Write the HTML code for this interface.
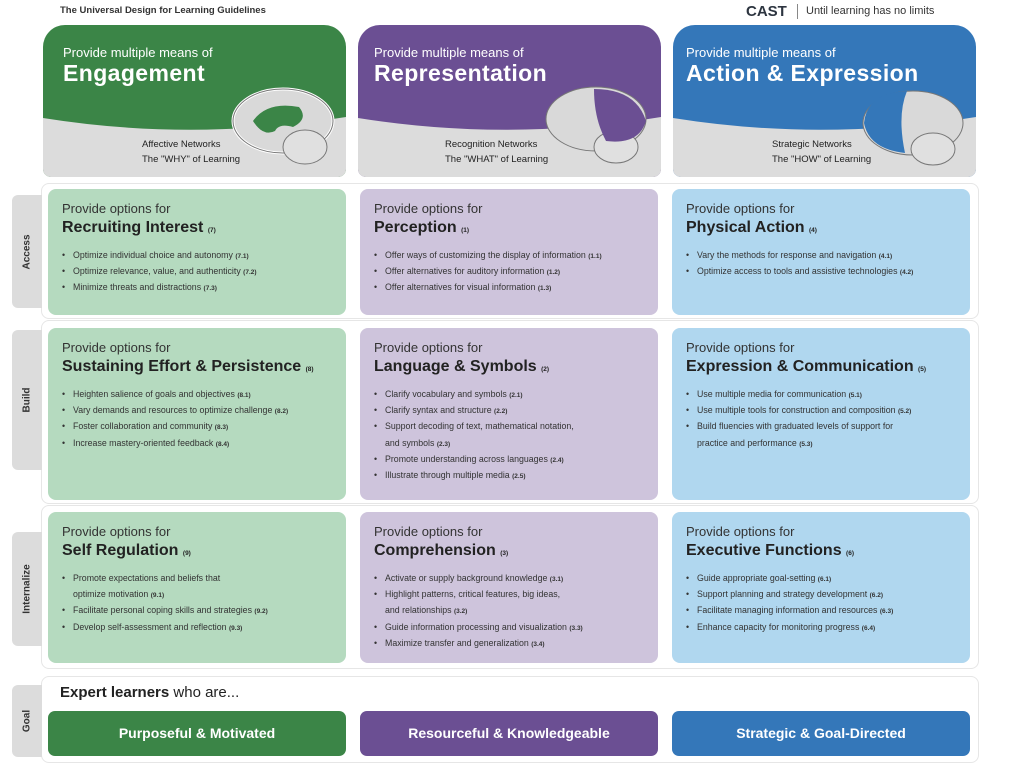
<!DOCTYPE html>
<html><head><meta charset="utf-8"><style>
*{margin:0;padding:0;box-sizing:border-box}
body{width:1024px;height:767px;background:#fff;font-family:"Liberation Sans",sans-serif;position:relative;overflow:hidden;color:#222}
.a{position:absolute}
.hdr{position:absolute;top:25px;width:303px;height:152px;border-radius:22px 22px 8px 8px;overflow:hidden}
.hdr .bg{position:absolute;left:0;top:0}
.hdr .p{position:absolute;top:20px;color:#fff;font-size:13px}
.hdr .t{position:absolute;top:35px;color:#fff;font-size:23px;font-weight:bold;letter-spacing:.4px}
.hdr .n{position:absolute;top:112px;font-size:9.5px;line-height:15px;color:#222}
.hdr svg.br{position:absolute}
.row{position:absolute;left:41px;width:938px;border:1px solid #e6e6e6;border-radius:8px;background:#fff}
.tab{position:absolute;left:12px;width:30px;background:#dcdcdc;border-radius:6px 0 0 6px}
.tab span{position:absolute;left:50%;top:50%;transform:translate(-50%,-50%) rotate(-90deg);font-size:10px;font-weight:bold;white-space:nowrap;color:#333}
.cell{position:absolute;width:298px;border-radius:8px;padding:11px 0 0 14px}
.g{background:#b5dabf}.pu{background:#cec4dc}.b{background:#b0d7ef}
.cell .p{font-size:13px;line-height:18px;color:#333}
.cell .t{font-size:16px;line-height:20px;font-weight:bold;color:#222;margin-bottom:9px}
.cell .t small,.cell li small{font-size:6.5px;font-weight:bold;line-height:0}
.cell ul{list-style:none}
.cell li{font-size:8.8px;line-height:16.2px;height:16.2px;padding-left:11px;position:relative;color:#333;white-space:nowrap}
.cell li.two{height:32.4px}
.cell li:before{content:"•";position:absolute;left:0}
.btn{position:absolute;top:711px;height:45px;width:298px;border-radius:7px;color:#fff;font-weight:bold;font-size:14px;text-align:center;line-height:45px}
</style></head><body>
<div class="a" style="left:60px;top:5px;font-size:9.5px;font-weight:bold;color:#333">The Universal Design for Learning Guidelines</div>
<div class="a" style="left:746px;top:3px;font-size:15px;font-weight:bold;color:#2d3540">CAST</div>
<div class="a" style="left:797px;top:4px;width:1px;height:15px;background:#888"></div>
<div class="a" style="left:806px;top:5px;font-size:11px;color:#333">Until learning has no limits</div>

<div class="hdr" style="left:43px"><svg class="bg" width="303" height="152"><rect width="303" height="152" fill="#3b8547"/><path d="M0 93 Q150 117 303 92 L303 152 L0 152Z" fill="#dcdcdc"/></svg>
<div class="p" style="left:20px">Provide multiple means of</div><div class="t" style="left:20px">Engagement</div>
<div class="n" style="left:99px">Affective Networks<br>The "WHY" of Learning</div>
<svg class="br" style="left:188px;top:60px" width="115" height="92"><ellipse cx="52" cy="36" rx="50" ry="32" fill="#d9d9d9" stroke="#fff" stroke-width="3"/><ellipse cx="52" cy="36" rx="50" ry="32" fill="none" stroke="#777" stroke-width="1"/><ellipse cx="74" cy="62" rx="22" ry="17" fill="#e0e0e0" stroke="#777"/><path d="M22 36 Q36 16 68 22 Q78 34 62 42 Q48 38 44 46 Q32 52 22 36Z" fill="#3b8547"/></svg>
</div>
<div class="hdr" style="left:358px"><svg class="bg" width="303" height="152"><rect width="303" height="152" fill="#6b4f93"/><path d="M0 93 Q150 117 303 92 L303 152 L0 152Z" fill="#dcdcdc"/></svg>
<div class="p" style="left:16px">Provide multiple means of</div><div class="t" style="left:16px">Representation</div>
<div class="n" style="left:87px">Recognition Networks<br>The "WHAT" of Learning</div>
<svg class="br" style="left:186px;top:58px" width="115" height="92"><ellipse cx="52" cy="36" rx="50" ry="32" fill="#d9d9d9" stroke="#777"/><ellipse cx="72" cy="64" rx="22" ry="16" fill="#e0e0e0" stroke="#777"/><path d="M50 6 Q92 6 102 38 Q95 62 62 58 Q50 36 50 6Z" fill="#6b4f93"/></svg>
</div>
<div class="hdr" style="left:673px"><svg class="bg" width="303" height="152"><rect width="303" height="152" fill="#3477b9"/><path d="M0 93 Q150 117 303 92 L303 152 L0 152Z" fill="#dcdcdc"/></svg>
<div class="p" style="left:13px">Provide multiple means of</div><div class="t" style="left:13px">Action &amp; Expression</div>
<div class="n" style="left:99px">Strategic Networks<br>The "HOW" of Learning</div>
<svg class="br" style="left:188px;top:62px" width="115" height="92"><ellipse cx="52" cy="36" rx="50" ry="32" fill="#d9d9d9" stroke="#777"/><ellipse cx="72" cy="62" rx="22" ry="16" fill="#e0e0e0" stroke="#777"/><path d="M3 36 Q6 6 46 4 Q36 28 44 66 Q8 62 3 36Z" fill="#3477b9"/></svg>
</div>

<div class="row" style="top:183px;height:136px"></div>
<div class="row" style="top:320px;height:184px"></div>
<div class="row" style="top:505px;height:164px"></div>
<div class="row" style="top:676px;height:87px"></div>
<div class="tab" style="top:195px;height:113px"><span>Access</span></div>
<div class="tab" style="top:330px;height:140px"><span>Build</span></div>
<div class="tab" style="top:532px;height:114px"><span>Internalize</span></div>
<div class="tab" style="top:685px;height:72px"><span>Goal</span></div>

<div class="cell g" style="left:48px;top:189px;height:126px"><div class="p">Provide options for</div><div class="t">Recruiting Interest <small>(7)</small></div><ul><li>Optimize individual choice and autonomy <small>(7.1)</small></li><li>Optimize relevance, value, and authenticity <small>(7.2)</small></li><li>Minimize threats and distractions <small>(7.3)</small></li></ul></div>
<div class="cell pu" style="left:360px;top:189px;height:126px"><div class="p">Provide options for</div><div class="t">Perception <small>(1)</small></div><ul><li>Offer ways of customizing the display of information <small>(1.1)</small></li><li>Offer alternatives for auditory information <small>(1.2)</small></li><li>Offer alternatives for visual information <small>(1.3)</small></li></ul></div>
<div class="cell b" style="left:672px;top:189px;height:126px"><div class="p">Provide options for</div><div class="t">Physical Action <small>(4)</small></div><ul><li>Vary the methods for response and navigation <small>(4.1)</small></li><li>Optimize access to tools and assistive technologies <small>(4.2)</small></li></ul></div>

<div class="cell g" style="left:48px;top:328px;height:172px"><div class="p">Provide options for</div><div class="t">Sustaining Effort &amp; Persistence <small>(8)</small></div><ul><li>Heighten salience of goals and objectives <small>(8.1)</small></li><li>Vary demands and resources to optimize challenge <small>(8.2)</small></li><li>Foster collaboration and community <small>(8.3)</small></li><li>Increase mastery-oriented feedback <small>(8.4)</small></li></ul></div>
<div class="cell pu" style="left:360px;top:328px;height:172px"><div class="p">Provide options for</div><div class="t">Language &amp; Symbols <small>(2)</small></div><ul><li>Clarify vocabulary and symbols <small>(2.1)</small></li><li>Clarify syntax and structure <small>(2.2)</small></li><li class="two">Support decoding of text, mathematical notation,<br>and symbols <small>(2.3)</small></li><li>Promote understanding across languages <small>(2.4)</small></li><li>Illustrate through multiple media <small>(2.5)</small></li></ul></div>
<div class="cell b" style="left:672px;top:328px;height:172px"><div class="p">Provide options for</div><div class="t">Expression &amp; Communication <small>(5)</small></div><ul><li>Use multiple media for communication <small>(5.1)</small></li><li>Use multiple tools for construction and composition <small>(5.2)</small></li><li class="two">Build fluencies with graduated levels of support for<br>practice and performance <small>(5.3)</small></li></ul></div>

<div class="cell g" style="left:48px;top:512px;height:151px"><div class="p">Provide options for</div><div class="t">Self Regulation <small>(9)</small></div><ul><li class="two">Promote expectations and beliefs that<br>optimize motivation <small>(9.1)</small></li><li>Facilitate personal coping skills and strategies <small>(9.2)</small></li><li>Develop self-assessment and reflection <small>(9.3)</small></li></ul></div>
<div class="cell pu" style="left:360px;top:512px;height:151px"><div class="p">Provide options for</div><div class="t">Comprehension <small>(3)</small></div><ul><li>Activate or supply background knowledge <small>(3.1)</small></li><li class="two">Highlight patterns, critical features, big ideas,<br>and relationships <small>(3.2)</small></li><li>Guide information processing and visualization <small>(3.3)</small></li><li>Maximize transfer and generalization <small>(3.4)</small></li></ul></div>
<div class="cell b" style="left:672px;top:512px;height:151px"><div class="p">Provide options for</div><div class="t">Executive Functions <small>(6)</small></div><ul><li>Guide appropriate goal-setting <small>(6.1)</small></li><li>Support planning and strategy development <small>(6.2)</small></li><li>Facilitate managing information and resources <small>(6.3)</small></li><li>Enhance capacity for monitoring progress <small>(6.4)</small></li></ul></div>

<div class="a" style="left:60px;top:684px;font-size:15px;color:#222"><b>Expert learners</b> who are...</div>
<div class="btn" style="left:48px;background:#3b8547">Purposeful &amp; Motivated</div>
<div class="btn" style="left:360px;background:#6b4f93">Resourceful &amp; Knowledgeable</div>
<div class="btn" style="left:672px;background:#3477b9">Strategic &amp; Goal-Directed</div>
</body></html>
